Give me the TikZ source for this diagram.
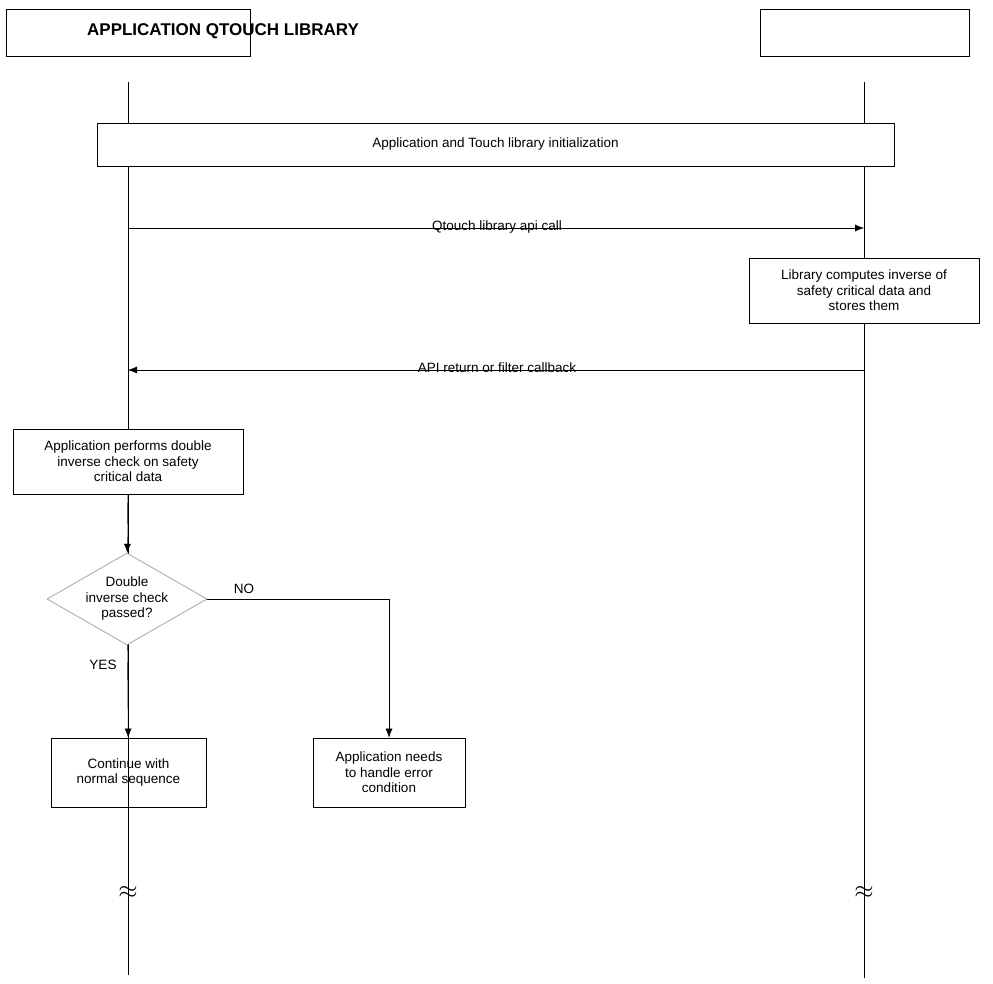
\documentclass[tikz,border=0pt]{standalone}
\usepackage{fontspec}
\setmainfont{Liberation Sans}
\usetikzlibrary{positioning,shapes.geometric,arrows.meta}

\tikzset{
  box/.style={draw, thick, align=center, inner sep=2pt, font=\fontsize{13.5}{15.5}\selectfont},
  lbl/.style={font=\fontsize{13.5}{15.5}\selectfont},
  msg/.style={-{Latex[length=9pt,width=7pt]}},
}

\begin{document}
\begin{tikzpicture}[x=1pt,y=-1pt]
    \useasboundingbox (0,0) rectangle (993,984);

    % header boxes
    \draw[thick] (6,9) rectangle (250,56);
    \draw[thick] (760,9) rectangle (969,56);
    \node[font=\bfseries\fontsize{17}{19}\selectfont] (title) at (223,31) {APPLICATION QTOUCH LIBRARY};

    % lifelines
    \coordinate (apptop) at (128,82);
    \coordinate (append) at (128,975);
    \coordinate (libtop) at (864,82);
    \coordinate (libend) at (864,978);
    \draw (apptop) -- (append);
    \draw (libtop) -- (libend);

    \node[box, fill=white, minimum width=797, minimum height=43] (init) at (495.5,144.5) {Application and Touch library initialization};

    % api call
    \coordinate (call1) at (128,228);
    \coordinate (call2) at (864,228);
    \draw[msg] (call1) -- (call2);
    \node[lbl] (calllbl) at (497,227) {Qtouch library api call};

    \node[box, fill=white, minimum width=230, minimum height=65] (compute) at (864,290.5) {Library computes inverse of\\safety critical data and\\stores them};

    % return
    \coordinate (ret1) at (864,370);
    \coordinate (ret2) at (128,370);
    \draw[msg] (ret1) -- (ret2);
    \node[lbl] (retlbl) at (497,368) {API return or filter callback};

    \node[box, fill=white, minimum width=230, minimum height=65] (check) at (128,461.5) {Application performs double\\inverse check on safety\\critical data};

    \node[diamond, draw=gray!70, thick, fill=white, aspect=1.74, inner sep=0pt, minimum width=160, minimum height=92, align=center, lbl] (passed) at (127,599) {Double\\inverse check\\passed?};

    \node[box, minimum width=155, minimum height=69] (normal) at (128.5,772.5) {Continue with\\normal sequence};
    \node[box, minimum width=152, minimum height=69] (error) at (389,772.5) {Application needs\\to handle error\\condition};

    \draw[msg] (check) -- (passed);
    \draw[msg] (passed) -- (normal);
    \draw[msg] (passed.east) -| (error.north);
    \node[lbl] (yes) at (103,665) {YES};
    \node[lbl] (no) at (244,589) {NO};

    % breaks
    \node[font=\fontsize{34}{34}\selectfont] (brk1) at (128,892) {$\approx$};
    \node[font=\fontsize{34}{34}\selectfont] (brk2) at (864,892) {$\approx$};
\end{tikzpicture}
\end{document}
